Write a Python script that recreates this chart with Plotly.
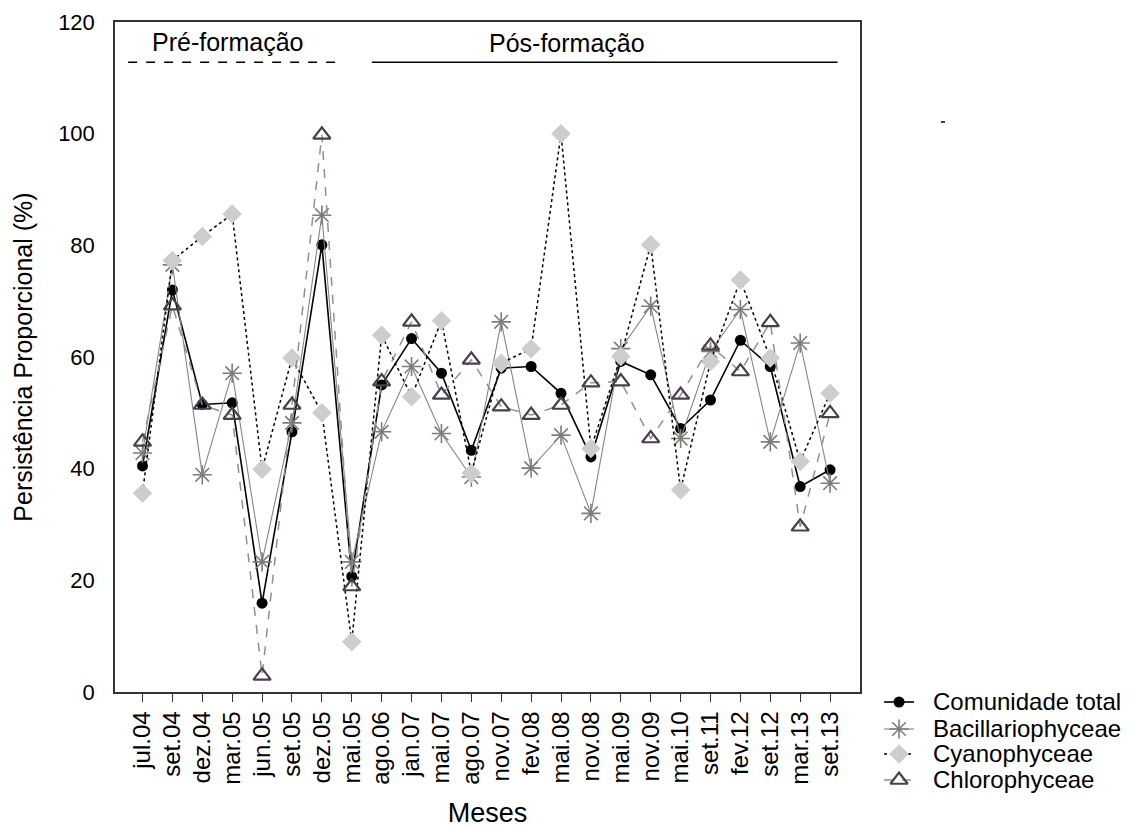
import plotly.graph_objects as go

meses = ["jul.04", "set.04", "dez.04", "mar.05", "jun.05", "set.05", "dez.05", "mai.05",
         "ago.06", "jan.07", "mai.07", "ago.07", "nov.07", "fev.08", "mai.08", "nov.08",
         "mai.09", "nov.09", "mai.10", "set.11", "fev.12", "set.12", "mar.13", "set.13"]

comunidade = [40.5, 72.0, 51.5, 51.8, 15.9, 46.6, 80.1, 20.7,
              55.0, 63.3, 57.1, 43.3, 58.0, 58.3, 53.5, 42.1,
              59.2, 56.8, 47.2, 52.3, 63.0, 58.3, 36.8, 39.8]
bacillario = [42.8, 76.5, 38.9, 57.1, 23.3, 48.2, 85.4, 23.3,
              46.6, 58.3, 46.3, 38.5, 66.3, 40.1, 46.0, 32.0,
              61.5, 69.1, 45.4, 61.0, 68.5, 44.8, 62.5, 37.4]
cyano = [35.6, 77.3, 81.6, 85.6, 39.9, 59.8, 50.0, 9.0,
         63.9, 52.9, 66.5, 39.2, 58.9, 61.5, 100.0, 43.6,
         60.1, 80.1, 36.2, 59.2, 73.8, 59.8, 41.3, 53.5]
chloro = [44.8, 69.2, 51.4, 49.6, 2.9, 51.4, 99.8, 18.9,
          55.6, 66.3, 53.2, 59.5, 51.1, 49.6, 51.4, 55.4,
          55.6, 45.4, 53.2, 62.0, 57.4, 66.2, 29.6, 49.9]

series_names = ["Comunidade total", "Bacillariophyceae", "Cyanophyceae", "Chlorophyceae"]
series_values = [comunidade, bacillario, cyano, chloro]
y_ticks = [0, 20, 40, 60, 80, 100, 120]

FONT = "Liberation Sans, Arial, sans-serif"

styles = [
    dict(line=dict(color="#000000", width=1.6),
         marker=dict(symbol="circle", size=11, color="#000000", line=dict(width=0))),
    dict(line=dict(color="#7f8a7f", width=1.1),
         marker=dict(symbol="asterisk-open", size=16, color="#7a7f7a",
                     line=dict(color="#7a7f7a", width=1.6))),
    dict(line=dict(color="#000000", width=1.5, dash="dot"),
         marker=dict(symbol="diamond", size=15, color="#cdcdcd", line=dict(width=0))),
    dict(line=dict(color="#8a948a", width=1.5, dash="dash"),
         marker=dict(symbol="triangle-up-open", size=15, color="#4a3f4c",
                     line=dict(color="#4a3f4c", width=2.2))),
]

fig = go.Figure()
for name, vals, st in zip(series_names, series_values, styles):
    fig.add_trace(go.Scatter(x=meses, y=vals, name=name, mode="lines+markers",
                             line=st["line"], marker=st["marker"], showlegend=False))

# custom legend (own small axis in pixel-like units)
leg_rows = [702, 729, 754, 780]
for name, row, st in zip(series_names, leg_rows, styles):
    fig.add_trace(go.Scatter(x=[884, 914], y=[row, row], mode="lines",
                             line=st["line"], xaxis="x2", yaxis="y2",
                             showlegend=False, hoverinfo="skip"))
    fig.add_trace(go.Scatter(x=[899], y=[row], mode="markers",
                             marker=st["marker"], xaxis="x2", yaxis="y2",
                             showlegend=False, hoverinfo="skip"))
    fig.add_annotation(x=931, y=row, xref="x2", yref="y2", text=name, showarrow=False,
                       xanchor="left", yanchor="middle",
                       font=dict(family=FONT, size=24, color="#000"))

# period labels and bars
fig.add_shape(type="line", xref="x", yref="y", x0=-0.48, x1=6.45, y0=112.8, y1=112.8,
              line=dict(color="#000000", width=1.5, dash="dash"))
fig.add_shape(type="line", xref="x", yref="y", x0=7.67, x1=23.25, y0=112.8, y1=112.8,
              line=dict(color="#000000", width=1.5))
fig.add_annotation(x=2.85, y=116.4, xref="x", yref="y", text="Pré-formação",
                   showarrow=False, font=dict(family=FONT, size=25, color="#000"))
fig.add_annotation(x=14.2, y=116.2, xref="x", yref="y", text="Pós-formação",
                   showarrow=False, font=dict(family=FONT, size=25, color="#000"))
# stray small mark at right
fig.add_shape(type="line", xref="paper", yref="paper", x0=0.8114, x1=0.8153,
              y0=0.8728, y1=0.8728, line=dict(color="#000", width=1.5))

fig.update_layout(
    width=1133, height=828,
    margin=dict(l=115, r=0, t=22, b=20),
    paper_bgcolor="white", plot_bgcolor="white",
    font=dict(family=FONT, size=22, color="#000"),
    showlegend=False,
    xaxis=dict(
        domain=[0, 0.7318], type="category", range=[-0.92, 24.0],
        tickmode="array", tickvals=meses, ticktext=meses,
        showline=True, linecolor="#333", linewidth=1.5, mirror=True,
        ticks="outside", ticklen=8, tickcolor="#333", tickwidth=1.2,
        tickangle=-90, showgrid=False, zeroline=False,
        tickfont=dict(family=FONT, size=24, color="#000"),
        title=dict(text="Meses", font=dict(family=FONT, size=27, color="#000"), standoff=22),
    ),
    yaxis=dict(
        domain=[0.14758, 1.0], range=[0, 120], tickmode="array", tickvals=y_ticks,
        showline=True, linecolor="#333", linewidth=1.5, mirror=True,
        ticks="", ticklabelstandoff=14, showgrid=False, zeroline=False,
        tickfont=dict(family=FONT, size=22, color="#000"),
        title=dict(text="Persistência Proporcional (%)",
                   font=dict(family=FONT, size=25, color="#000"), standoff=18),
    ),
    xaxis2=dict(domain=[0.7417, 1.0], range=[870, 1133], visible=False, fixedrange=True,
                anchor="y2"),
    yaxis2=dict(domain=[0.01654, 0.15013], range=[795, 690], visible=False, fixedrange=True,
                anchor="x2"),
)

fig.write_html("out.html")
